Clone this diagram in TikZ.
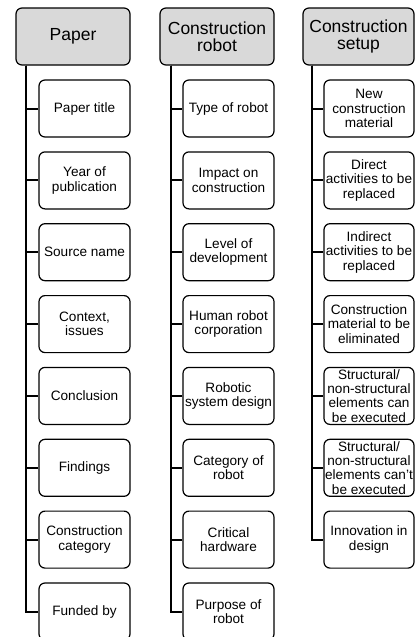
\documentclass[tikz,border=0pt]{standalone}
\usepackage{fontspec}
\setmainfont{Liberation Sans}
\definecolor{headgray}{HTML}{D9D9D9}
\begin{document}
\begin{tikzpicture}[x=1pt,y=-1pt,
  head/.style={draw,line width=1.2pt,rounded corners=6pt,fill=headgray,
    minimum width=114pt,minimum height=57pt,align=center,inner sep=1pt,
    font=\fontsize{17.5}{17}\selectfont},
  item/.style={draw,line width=1.2pt,rounded corners=6pt,
    minimum width=91pt,minimum height=57pt,align=center,inner sep=1pt,
    font=\fontsize{13.6}{14.3}\selectfont},
  link/.style={line width=2pt}]
  \useasboundingbox (0,0) rectangle (415,637);
  % headers
  \node[head] (paper) at (73,36.5) {Paper};
  \node[head] (robot) at (217,36.5) {Construction\\robot};
  \node[head,minimum width=111pt] (setup) at (358.5,36.5) {Construction\\setup};
  % paper column
  \node[item] (title) at (84.5,108.5) {Paper title};
  \node[item] (year) at (84.5,180.4) {Year of\\publication};
  \node[item] (source) at (84.5,252.2) {Source name};
  \node[item] (context) at (84.5,324.1) {Context,\\issues};
  \node[item] (conclusion) at (84.5,395.9) {Conclusion};
  \node[item] (findings) at (84.5,467.8) {Findings};
  \node[item] (category) at (84.5,539.6) {Construction\\category};
  \node[item] (funded) at (84.5,611.5) {Funded by};
  % robot column
  \node[item] (type) at (228.5,108.5) {Type of robot};
  \node[item] (impact) at (228.5,180.4) {Impact on\\construction};
  \node[item] (level) at (228.5,252.2) {Level of\\development};
  \node[item] (human) at (228.5,324.1) {Human robot\\corporation};
  \node[item] (system) at (228.5,395.9) {Robotic\\system design};
  \node[item] (robotcat) at (228.5,467.8) {Category of\\robot};
  \node[item] (hardware) at (228.5,539.6) {Critical\\hardware};
  \node[item] (purpose) at (228.5,611.5) {Purpose of\\robot};
  % setup column
  \node[item,minimum width=90pt] (material) at (369,108.5) {New\\construction\\material};
  \node[item,minimum width=90pt] (direct) at (369,180.4) {Direct\\activities to be\\replaced};
  \node[item,minimum width=90pt] (indirect) at (369,252.2) {Indirect\\activities to be\\replaced};
  \node[item,minimum width=90pt] (eliminated) at (369,324.1) {Construction\\material to be\\eliminated};
  \node[item,minimum width=90pt] (canexec) at (369,395.9) {Structural/\\non-structural\\elements can\\be executed};
  \node[item,minimum width=90pt] (cantexec) at (369,467.8) {Structural/\\non-structural\\elements can't\\be executed};
  \node[item,minimum width=90pt] (innovation) at (369,539.6) {Innovation in\\design};
  % connectors
  \draw[link] ([xshift=11pt]paper.south west) |- (title.west);
  \draw[link] ([xshift=11pt]paper.south west) |- (year.west);
  \draw[link] ([xshift=11pt]paper.south west) |- (source.west);
  \draw[link] ([xshift=11pt]paper.south west) |- (context.west);
  \draw[link] ([xshift=11pt]paper.south west) |- (conclusion.west);
  \draw[link] ([xshift=11pt]paper.south west) |- (findings.west);
  \draw[link] ([xshift=11pt]paper.south west) |- (category.west);
  \draw[link] ([xshift=11pt]paper.south west) |- (funded.west);
  \draw[link] ([xshift=12pt]robot.south west) |- (type.west);
  \draw[link] ([xshift=12pt]robot.south west) |- (impact.west);
  \draw[link] ([xshift=12pt]robot.south west) |- (level.west);
  \draw[link] ([xshift=12pt]robot.south west) |- (human.west);
  \draw[link] ([xshift=12pt]robot.south west) |- (system.west);
  \draw[link] ([xshift=12pt]robot.south west) |- (robotcat.west);
  \draw[link] ([xshift=12pt]robot.south west) |- (hardware.west);
  \draw[link] ([xshift=12pt]robot.south west) |- (purpose.west);
  \draw[link] ([xshift=10pt]setup.south west) |- (material.west);
  \draw[link] ([xshift=10pt]setup.south west) |- (direct.west);
  \draw[link] ([xshift=10pt]setup.south west) |- (indirect.west);
  \draw[link] ([xshift=10pt]setup.south west) |- (eliminated.west);
  \draw[link] ([xshift=10pt]setup.south west) |- (canexec.west);
  \draw[link] ([xshift=10pt]setup.south west) |- (cantexec.west);
  \draw[link] ([xshift=10pt]setup.south west) |- (innovation.west);
\end{tikzpicture}
\end{document}
